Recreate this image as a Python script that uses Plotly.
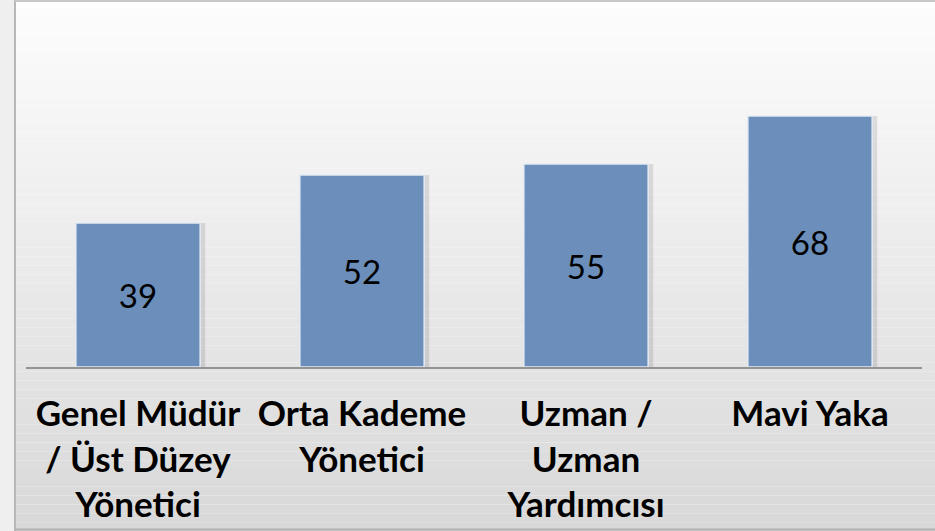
import plotly.graph_objects as go

# Data
categories = [
    "Genel Müdür<br>/ Üst Düzey<br>Yönetici",
    "Orta Kademe<br>Yönetici",
    "Uzman /<br>Uzman<br>Yardımcısı",
    "Mavi Yaka",
]
values = [39, 52, 55, 68]

W, H = 935, 531
ML, MR, MT, MB = 26, 13, 10, 164
plot_w = W - ML - MR
plot_h = H - MT - MB
y_max = plot_h / 3.69


def px_x(px):
    return (px - ML) / plot_w


def px_y(py):
    return (H - MB - py) / plot_h


shapes = []

# vertical background gradient (light at top, grey at bottom)
bands = 60
for i in range(bands):
    y0 = H * i / bands
    y1 = H * (i + 1) / bands
    t = (i + 0.5) / bands
    c = round(253 - t * (253 - 216))
    shapes.append(dict(
        type="rect", xref="paper", yref="paper", layer="below",
        x0=px_x(0), x1=px_x(W), y0=px_y(y1), y1=px_y(y0),
        fillcolor=f"rgb({c},{c},{c})", line=dict(width=0),
    ))

# left frame strip and borders
shapes.append(dict(type="rect", xref="paper", yref="paper", layer="below",
                   x0=px_x(0), x1=px_x(14), y0=px_y(H), y1=px_y(0),
                   fillcolor="#efefef", line=dict(width=0)))
shapes.append(dict(type="line", xref="paper", yref="paper", layer="below",
                   x0=px_x(15), x1=px_x(15), y0=px_y(H), y1=px_y(0),
                   line=dict(color="#b8b8b8", width=2)))
shapes.append(dict(type="line", xref="paper", yref="paper", layer="below",
                   x0=px_x(15), x1=px_x(W), y0=px_y(1), y1=px_y(1),
                   line=dict(color="#c8c8c8", width=2)))
shapes.append(dict(type="line", xref="paper", yref="paper", layer="below",
                   x0=px_x(15), x1=px_x(W), y0=px_y(529.5), y1=px_y(529.5),
                   line=dict(color="#b0b0b0", width=2)))

fig = go.Figure()

# soft drop shadow behind the bars
fig.add_trace(go.Bar(
    x=categories, y=values, width=0.57, offset=-0.27,
    marker=dict(color="rgba(0,0,0,0.10)", line=dict(width=0)),
    hoverinfo="skip", showlegend=False,
))

fig.add_trace(go.Bar(
    x=categories, y=values, width=0.555,
    marker=dict(color="#6b8eba", line=dict(color="#e4ebf4", width=1.5)),
    text=[str(v) for v in values],
    textposition="inside", insidetextanchor="middle",
    textfont=dict(family="Lato, Calibri, sans-serif", size=33, color="black"),
    constraintext="none",
    showlegend=False,
))

fig.update_layout(
    width=W, height=H,
    margin=dict(l=ML, r=MR, t=MT, b=MB, autoexpand=False),
    barmode="overlay",
    paper_bgcolor="rgba(0,0,0,0)",
    plot_bgcolor="rgba(0,0,0,0)",
    shapes=shapes,
    xaxis=dict(
        showline=True, linecolor="#939393", linewidth=2,
        showgrid=False, ticks="", ticklabelstandoff=15, automargin=False,
        tickfont=dict(family="Lato, Calibri, sans-serif", size=35,
                      color="black", weight=700),
    ),
    yaxis=dict(range=[0, y_max], visible=False, showgrid=False,
               automargin=False),
)

fig.write_html("out.html")
